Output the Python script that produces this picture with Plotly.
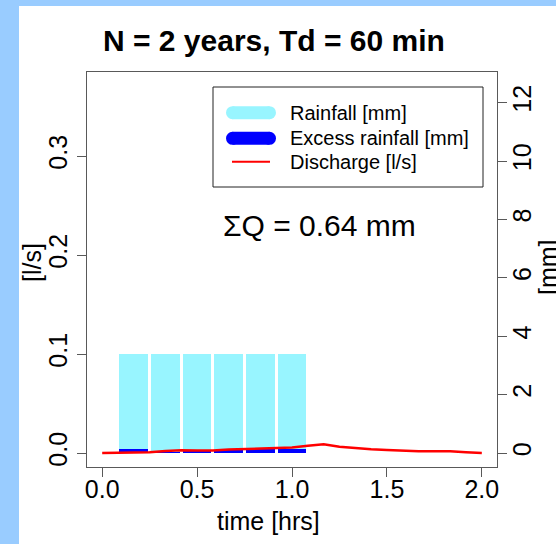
import plotly.graph_objects as go

# Design storm: 10-minute rainfall blocks (hours, mm)
rain_time_hrs = [0.1667, 0.3333, 0.5, 0.6667, 0.8333, 1.0]
rainfall_mm = [3.4, 3.4, 3.4, 3.4, 3.4, 3.4]
excess_rainfall_mm = [0.15, 0.03, 0.10, 0.12, 0.13, 0.15]

# Simulated outflow hydrograph (hours, l/s)
q_time_hrs = [0.0, 0.0833, 0.1667, 0.25, 0.3333, 0.4167, 0.5, 0.5833, 0.6667,
              0.75, 0.8333, 0.9167, 1.0, 1.0833, 1.1667, 1.25, 1.3333, 1.4167,
              1.5, 1.5833, 1.6667, 1.75, 1.8333, 1.9167, 2.0]
discharge_ls = [0.0, 0.0, 0.0, 0.0007, 0.002, 0.0027, 0.0025, 0.0025, 0.0035,
                0.004, 0.0042, 0.0054, 0.0056, 0.0074, 0.0088, 0.0064, 0.0047,
                0.0037, 0.003, 0.0023, 0.0017, 0.0017, 0.0017, 0.0007, 0.0]

x_ticks = [0.0, 0.5, 1.0, 1.5, 2.0]
q_ticks = [0.0, 0.1, 0.2, 0.3]
mm_ticks = [0, 2, 4, 6, 8, 10, 12]

title_text = "N = 2 years, Td = 60 min"
sum_q_text = "\u03a3Q = 0.64 mm"
legend_labels = ["Rainfall [mm]", "Excess rainfall [mm]", "Discharge [l/s]"]

RAIN_COL = "#98F5FF"
EXCESS_COL = "#0000FF"
Q_COL = "#FF0000"
AXIS_COL = "#595959"
FONT = "Liberation Sans, Arial, sans-serif"

W, H = 556, 544
L, R, T, B = 87, 59, 72, 77
PW, PH = W - L - R, H - T - B


def px(x):
    return (x - L) / PW


def py(y):
    return (H - B - y) / PH


fig = go.Figure()

bar_width = 0.1515
fig.add_trace(go.Bar(x=rain_time_hrs, y=rainfall_mm, width=bar_width,
                     marker=dict(color=RAIN_COL, line=dict(width=0)),
                     yaxis="y", showlegend=False))
fig.add_trace(go.Bar(x=rain_time_hrs, y=excess_rainfall_mm, width=bar_width,
                     marker=dict(color=EXCESS_COL, line=dict(width=0)),
                     yaxis="y", showlegend=False))
fig.add_trace(go.Scatter(x=q_time_hrs, y=discharge_ls, mode="lines",
                         line=dict(color=Q_COL, width=2.5),
                         yaxis="y2", showlegend=False))

tickfont = dict(family=FONT, size=25, color="black")
axis_common = dict(showgrid=False, zeroline=False, ticks="outside", ticklen=9,
                   tickwidth=1, tickcolor=AXIS_COL, tickfont=tickfont)

fig.update_layout(
    width=W, height=H,
    margin=dict(l=L, r=R, t=T, b=B, pad=0),
    paper_bgcolor="#99CCFF",
    plot_bgcolor="white",
    barmode="overlay",
    bargap=0,
    showlegend=False,
    xaxis=dict(range=[-0.08, 2.08], tickvals=x_ticks,
               ticktext=[f"{v:.1f}" for v in x_ticks],
               showline=True, linecolor=AXIS_COL, linewidth=1, mirror=True,
               ticklabelstandoff=-9, **axis_common),
    yaxis=dict(range=[-14 / 29.2, 381 / 29.2], side="right",
               tickvals=mm_ticks, ticktext=[str(v) for v in mm_ticks],
               tickangle=-90, showline=True, linecolor=AXIS_COL, linewidth=1,
               mirror=True, ticklabelstandoff=-6, **axis_common),
    yaxis2=dict(range=[-14 / 990, 381 / 990], side="left", overlaying="y",
                tickvals=q_ticks, ticktext=[f"{v:.1f}" for v in q_ticks],
                tickangle=-90, showline=False, **axis_common),
)

shapes = []
# white panel behind the chart
shapes.append(dict(type="rect", xref="paper", yref="paper", layer="below",
                   x0=px(19), x1=px(W + 20), y0=py(H + 20), y1=py(6),
                   fillcolor="white", line=dict(width=0)))

# legend frame
shapes.append(dict(type="rect", xref="paper", yref="paper",
                   x0=px(213), x1=px(483), y0=py(187), y1=py(87),
                   fillcolor="rgba(0,0,0,0)", line=dict(color="#222222", width=1)))

# legend keys: thick rounded strokes for the bars, thin line for discharge
for y_c, col in [(112.7, RAIN_COL), (138.3, EXCESS_COL)]:
    shapes.append(dict(type="line", xref="paper", yref="paper",
                       x0=px(232.5), x1=px(269.5), y0=py(y_c), y1=py(y_c),
                       line=dict(color=col, width=13)))
    for xc in (232.5, 269.5):
        shapes.append(dict(type="circle", xref="paper", yref="paper",
                           xsizemode="pixel", ysizemode="pixel",
                           xanchor=px(xc), yanchor=py(y_c),
                           x0=-6.5, x1=6.5, y0=-6.5, y1=6.5,
                           fillcolor=col, line=dict(width=0)))
shapes.append(dict(type="line", xref="paper", yref="paper",
                   x0=px(232), x1=px(270), y0=py(161.7), y1=py(161.7),
                   line=dict(color=Q_COL, width=2)))

fig.update_layout(shapes=shapes)

ann = []
ann.append(dict(text=f"<b>{title_text}</b>", x=px(274), y=py(40.5),
                xref="paper", yref="paper", showarrow=False,
                xanchor="center", yanchor="middle",
                font=dict(family=FONT, size=30, color="black")))
ann.append(dict(text=sum_q_text, x=px(319), y=py(225.7),
                xref="paper", yref="paper", showarrow=False,
                xanchor="center", yanchor="middle",
                font=dict(family=FONT, size=30, color="black")))
for lbl, y_c in zip(legend_labels, [112.7, 138.3, 161.7]):
    ann.append(dict(text=lbl, x=px(288.3), y=py(y_c),
                    xref="paper", yref="paper", showarrow=False,
                    xanchor="left", yanchor="middle",
                    font=dict(family=FONT, size=20, color="black")))
ann.append(dict(text="time [hrs]", x=px(268.5), y=py(521),
                xref="paper", yref="paper", showarrow=False,
                xanchor="center", yanchor="middle",
                font=dict(family=FONT, size=25, color="black")))
ann.append(dict(text="[l/s]", x=px(32), y=py(263), textangle=-90,
                xref="paper", yref="paper", showarrow=False,
                xanchor="center", yanchor="middle",
                font=dict(family=FONT, size=25, color="black")))
ann.append(dict(text="[mm]", x=px(548), y=py(267), textangle=-90,
                xref="paper", yref="paper", showarrow=False,
                xanchor="center", yanchor="middle",
                font=dict(family=FONT, size=25, color="black")))
fig.update_layout(annotations=ann)

fig.write_html("out.html")
